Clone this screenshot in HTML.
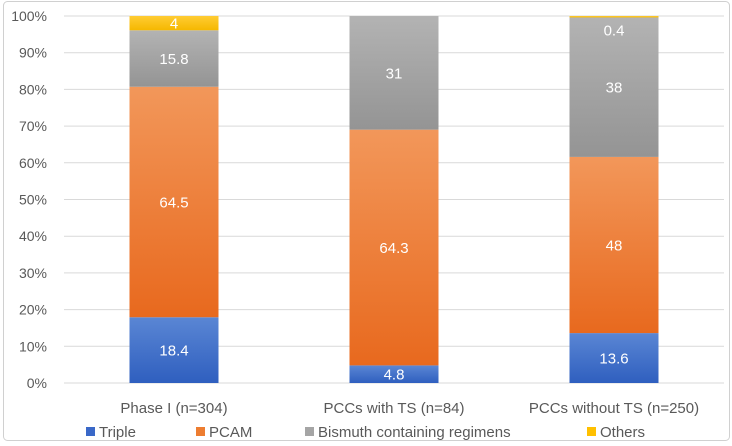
<!DOCTYPE html>
<html><head><meta charset="utf-8"><style>
body{margin:0;background:#fff;}
svg{display:block;font-family:"Liberation Sans",sans-serif;}
</style></head><body>
<svg id="chart" width="732" height="446">
<defs>
<linearGradient id="gB" x1="0" y1="0" x2="0" y2="1"><stop offset="0" stop-color="#5a86d4"/><stop offset="1" stop-color="#2f5fbf"/></linearGradient>
<linearGradient id="gO" x1="0" y1="0" x2="0" y2="1"><stop offset="0" stop-color="#f2975a"/><stop offset="1" stop-color="#e8691e"/></linearGradient>
<linearGradient id="gG" x1="0" y1="0" x2="0" y2="1"><stop offset="0" stop-color="#b3b3b3"/><stop offset="1" stop-color="#949494"/></linearGradient>
<linearGradient id="gY" x1="0" y1="0" x2="0" y2="1"><stop offset="0" stop-color="#ffcc33"/><stop offset="1" stop-color="#f5b800"/></linearGradient>
</defs>
<rect x="3.5" y="1.5" width="726" height="439" rx="4" fill="#fff" stroke="#d0d0d0"/>
<g id="grid"></g><g id="bars"></g><g id="labels"></g>
<g id="legend"></g>
</svg>
<script>
const categories=["Phase I (n=304)","PCCs with TS (n=84)","PCCs without TS (n=250)"];
const seriesNames=["Triple","PCAM","Bismuth containing regimens","Others"];
const triple=[18.4,4.8,13.6];
const pcam=[64.5,64.3,48];
const bismuth=[15.8,31,38];
const others=[4,0,0.4];
const yTicks=["0%","10%","20%","30%","40%","50%","60%","70%","80%","90%","100%"];
const series=[triple,pcam,bismuth,others];
const fills=["url(#gB)","url(#gO)","url(#gG)","url(#gY)"];
const legendColors=["#3a68c8","#ed7d31","#a5a5a5","#ffc000"];
const NS="http://www.w3.org/2000/svg";
const L=64,R=724,T=16,B=383;
const y=p=>B-(B-T)*p/100;
const xc=i=>L+(R-L)/categories.length*(i+0.5);
const bw=89;
function mk(tag,attrs,parent,text){const e=document.createElementNS(NS,tag);for(const k in attrs)e.setAttribute(k,attrs[k]);if(text!=null)e.textContent=text;document.getElementById(parent).appendChild(e);return e;}
yTicks.forEach((t,i)=>{
  const v=i*10;
  const l=mk("line",{x1:L,x2:R,y1:y(v),y2:y(v),stroke:"#d9d9d9","stroke-width":1},"grid");
  
  
  const tx=mk("text",{x:47,y:y(v)+5,"text-anchor":"end","font-size":14,fill:"#595959"},"grid",t);
  
  
});
categories.forEach((c,i)=>{
  const tot=series.reduce((s,a)=>s+a[i],0);
  let acc=0;
  series.forEach((a,k)=>{
    const v=a[i];
    if(v<=0)return;
    const p0=acc/tot*100,p1=(acc+v)/tot*100;acc+=v;
    const r=mk("rect",{x:xc(i)-bw/2,y:y(p1),width:bw,height:y(p0)-y(p1),fill:fills[k]},"bars");
    
    
    const h=y(p0)-y(p1);
    const cy=h<8?y(p1)+14:(y(p0)+y(p1))/2;
    const t=mk("text",{x:xc(i),y:cy+5.5,"text-anchor":"middle","font-size":15,fill:"#fff"},"labels",String(v));
    
    
  });
  const xl=mk("text",{x:xc(i),y:413,"text-anchor":"middle","font-size":15,fill:"#595959"},"labels",c);
  
  
});
const lx=[86,196,305,587];
seriesNames.forEach((n,k)=>{
  const s=mk("rect",{x:lx[k],y:427,width:9,height:9,fill:legendColors[k]},"legend");
  
  
  const t=mk("text",{x:lx[k]+13,y:437,"font-size":15,fill:"#595959"},"legend",n);
  
  
});
</script>
</body></html>
